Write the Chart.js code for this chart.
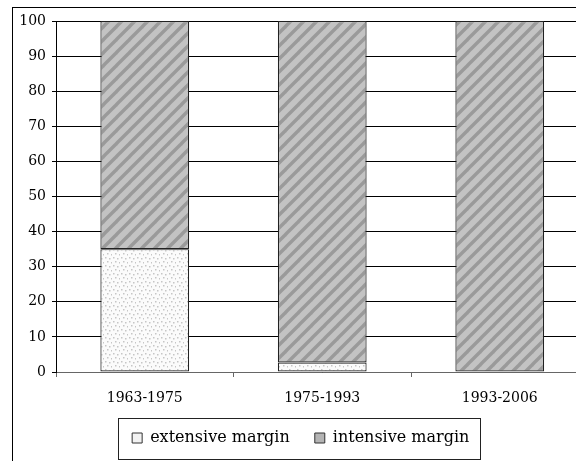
<!DOCTYPE html>
<html>
<head>
<meta charset="utf-8">
<script src="https://cdn.jsdelivr.net/npm/chart.js@4/dist/chart.umd.min.js"></script>
<style>
  html, body { margin: 0; padding: 0; background: #fff; overflow: hidden; }
  #wrap { width: 576px; height: 461px; overflow: hidden; }
  canvas { display: block; }
</style>
</head>
<body>
<div id="wrap"><canvas id="chart" width="620" height="470"></canvas></div>
<script>
const periods = ['1963-1975', '1975-1993', '1993-2006'];
const extensiveMargin = [35, 2.7, 0];
const intensiveMargin = [65, 97.3, 100];
const seriesNames = ['extensive margin', 'intensive margin'];

function stripePattern() {
    const n = 13;
    const c = document.createElement('canvas');
    c.width = n; c.height = n;
    const g = c.getContext('2d');
    g.fillStyle = '#c3c3c3';
    g.fillRect(0, 0, n, n);
    g.strokeStyle = '#9a9a9a';
    g.lineWidth = 3.4;
    [[-n / 2, n / 2, n / 2, -n / 2], [0, n, n, 0], [n / 2, n * 1.5, n * 1.5, n / 2]].forEach(([a, b, d, e]) => {
        g.beginPath(); g.moveTo(a, b); g.lineTo(d, e); g.stroke();
    });
    return g.createPattern(c, 'repeat');
}

function dotPattern() {
    const c = document.createElement('canvas');
    c.width = 8; c.height = 8;
    const g = c.getContext('2d');
    g.fillStyle = '#fbfbfb';
    g.fillRect(0, 0, 8, 8);
    g.fillStyle = '#c6c6c6';
    [[1, 1], [5, 2], [3, 5], [7, 6]].forEach(([x, y]) => g.fillRect(x, y, 1.5, 1.5));
    return g.createPattern(c, 'repeat');
}

const framePlugin = {
    id: 'frame',
    beforeDraw(chart) {
        const ctx = chart.ctx;
        ctx.save();
        ctx.fillStyle = '#fff';
        ctx.fillRect(0, 0, chart.width, chart.height);
        ctx.strokeStyle = '#000';
        ctx.lineWidth = 1;
        ctx.strokeRect(12.5, 7.5, 800, 800);
        ctx.restore();
    },
    afterDraw(chart) {
        const boxes = chart.legend.legendHitBoxes;
        if (!boxes || !boxes.length) return;
        const left = Math.min(...boxes.map(b => b.left)) - 14;
        const right = Math.max(...boxes.map(b => b.left + b.width)) + 11;
        const mid = boxes[0].top + boxes[0].height / 2;
        const ctx = chart.ctx;
        ctx.save();
        ctx.strokeStyle = '#222';
        ctx.lineWidth = 1;
        ctx.strokeRect(Math.round(left) + 0.5, Math.round(mid - 20.5) + 0.5, Math.round(right - left), 41);
        ctx.restore();
    }
};

Chart.defaults.font.family = "'DejaVu Serif', 'Liberation Serif', serif";
Chart.defaults.color = '#000';

new Chart(document.getElementById('chart'), {
    type: 'bar',
    data: {
        labels: periods,
        datasets: [
            {
                label: seriesNames[0],
                data: extensiveMargin,
                backgroundColor: dotPattern(),
                borderColor: '#222',
                borderWidth: 1.2,
                borderSkipped: false,
                barPercentage: 0.5,
                categoryPercentage: 1.0
            },
            {
                label: seriesNames[1],
                data: intensiveMargin,
                backgroundColor: stripePattern(),
                borderColor: '#222',
                borderWidth: 1.2,
                borderSkipped: false,
                barPercentage: 0.5,
                categoryPercentage: 1.0
            }
        ]
    },
    options: {
        responsive: false,
        animation: false,
        layout: { padding: { left: 13, top: 21, right: 31.5, bottom: 14 } },
        plugins: {
            tooltip: { enabled: false },
            legend: {
                position: 'bottom',
                labels: {
                    boxWidth: 10,
                    boxHeight: 10,
                    padding: 25,
                    color: '#000',
                    font: { size: 16 },
                    generateLabels: chart => {
                        const items = Chart.defaults.plugins.legend.labels.generateLabels(chart);
                        items.forEach((it, i) => {
                            it.fillStyle = i === 0 ? '#f2f2f2' : '#b4b4b4';
                            it.strokeStyle = '#333';
                            it.lineWidth = 1;
                        });
                        return items;
                    }
                }
            }
        },
        scales: {
            x: {
                stacked: true,
                offset: true,
                grid: { offset: true, drawOnChartArea: false, drawTicks: true, tickLength: 5, color: '#666' },
                border: { color: '#666' },
                ticks: { padding: 13, color: '#000', font: { size: 14 } },
                afterFit: s => { s.height = 33; }
            },
            y: {
                stacked: true,
                min: 0,
                max: 100,
                ticks: { stepSize: 10, padding: 6, color: '#000', font: { size: 14 } },
                grid: { color: '#000', tickLength: 4 },
                border: { color: '#000' },
                afterFit: s => { s.width = 43; }
            }
        }
    },
    plugins: [framePlugin]
});
</script>
</body>
</html>
